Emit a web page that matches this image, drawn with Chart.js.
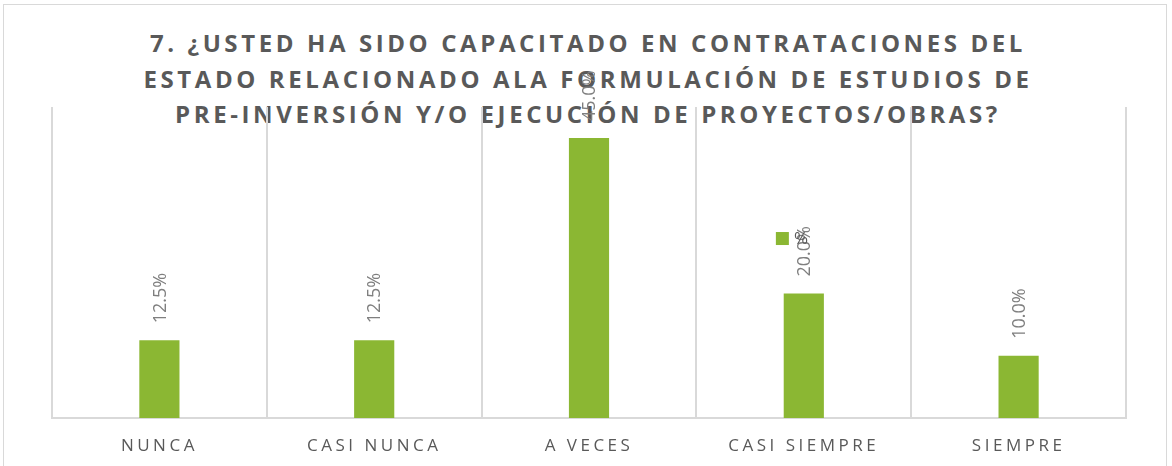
<!DOCTYPE html>
<html>
<head>
<meta charset="utf-8">
<script src="https://cdn.jsdelivr.net/npm/chart.js@4/dist/chart.umd.min.js"></script>
<style>
  html, body { margin: 0; padding: 0; background: #fff; }
  #wrap { position: relative; width: 1172px; height: 466px; overflow: hidden; }
  #frame { position: absolute; left: 3px; top: 4px; width: 1164px; height: 470px; border: 1px solid #d9d9d9; box-sizing: border-box; }
  #title {
    position: absolute; left: 0; top: 25px; width: 1176px; text-align: center;
    font-family: "Open Sans", sans-serif; font-weight: bold; font-size: 24px;
    line-height: 35.5px; letter-spacing: 3.6px; color: #595959;
  }
  #chart { position: absolute; left: 0; top: 0; }
</style>
</head>
<body>
<div id="wrap">
  <div id="frame"></div>
  <div id="title">7. ¿USTED HA SIDO CAPACITADO EN CONTRATACIONES DEL<br>ESTADO RELACIONADO ALA FORMULACIÓN DE ESTUDIOS DE<br>PRE-INVERSIÓN Y/O EJECUCIÓN DE PROYECTOS/OBRAS?</div>
  <canvas id="chart" width="1172" height="466"></canvas>
</div>
<script>
(() => {
  'use strict';

  const categories = ['NUNCA', 'CASI NUNCA', 'A VECES', 'CASI SIEMPRE', 'SIEMPRE'];
  const percentages = [12.5, 12.5, 45.0, 20.0, 10.0];
  const seriesName = '%';

  const GREEN = '#8bb733';
  const GRAY_TEXT = '#595959';

  // spacing for the axis labels, off for the value labels
  const spacingPlugin = {
    id: 'spacing',
    beforeDraw(chart) { chart.ctx.letterSpacing = '3.5px'; },
    afterDraw(chart) { chart.ctx.letterSpacing = '0px'; }
  };

  const valueLabels = {
    id: 'valueLabels',
    afterDatasetsDraw(chart) {
      const ctx = chart.ctx;
      const meta = chart.getDatasetMeta(0);
      ctx.save();
      ctx.letterSpacing = '0px';
      ctx.font = '18px "Open Sans", sans-serif';
      ctx.fillStyle = '#7f7f7f';
      ctx.textAlign = 'left';
      ctx.textBaseline = 'middle';
      meta.data.forEach((bar, i) => {
        ctx.save();
        ctx.translate(bar.x + 1, bar.y - 17);
        ctx.rotate(-Math.PI / 2);
        ctx.fillText(percentages[i].toFixed(1) + '%', 0, 0);
        ctx.restore();
      });
      ctx.restore();
    }
  };

  const innerLegend = {
    id: 'innerLegend',
    afterDraw(chart) {
      const ctx = chart.ctx;
      const a = chart.chartArea;
      const x = a.left + (a.right - a.left) * 0.674;
      const y = a.top + (a.bottom - a.top) * 0.402;
      ctx.save();
      ctx.letterSpacing = '0px';
      ctx.fillStyle = GREEN;
      ctx.fillRect(x, y, 13, 13);
      ctx.font = '17px "Open Sans", sans-serif';
      ctx.fillStyle = GRAY_TEXT;
      ctx.textBaseline = 'middle';
      ctx.fillText(chart.data.datasets[0].label, x + 18, y + 7);
      ctx.restore();
    }
  };

  new Chart(document.getElementById('chart'), {
    type: 'bar',
    data: {
      labels: categories,
      datasets: [{
        label: seriesName,
        data: percentages,
        backgroundColor: GREEN,
        categoryPercentage: 1,
        barPercentage: 0.187
      }]
    },
    options: {
      responsive: false,
      animation: false,
      layout: { padding: { left: 52, right: 46, top: 107, bottom: -9 } },
      plugins: { legend: { display: false }, title: { display: false }, tooltip: { enabled: false } },
      scales: {
        x: {
          grid: { color: '#d9d9d9', lineWidth: 2, drawTicks: false, offset: true },
          border: { color: '#d9d9d9', width: 2 },
          ticks: {
            color: GRAY_TEXT,
            padding: 20,
            font: { family: '"Open Sans", sans-serif', size: 17, lineHeight: 1 }
          }
        },
        y: { display: false, min: 0, max: 50 }
      }
    },
    plugins: [spacingPlugin, valueLabels, innerLegend]
  });
})();
</script>
</body>
</html>
